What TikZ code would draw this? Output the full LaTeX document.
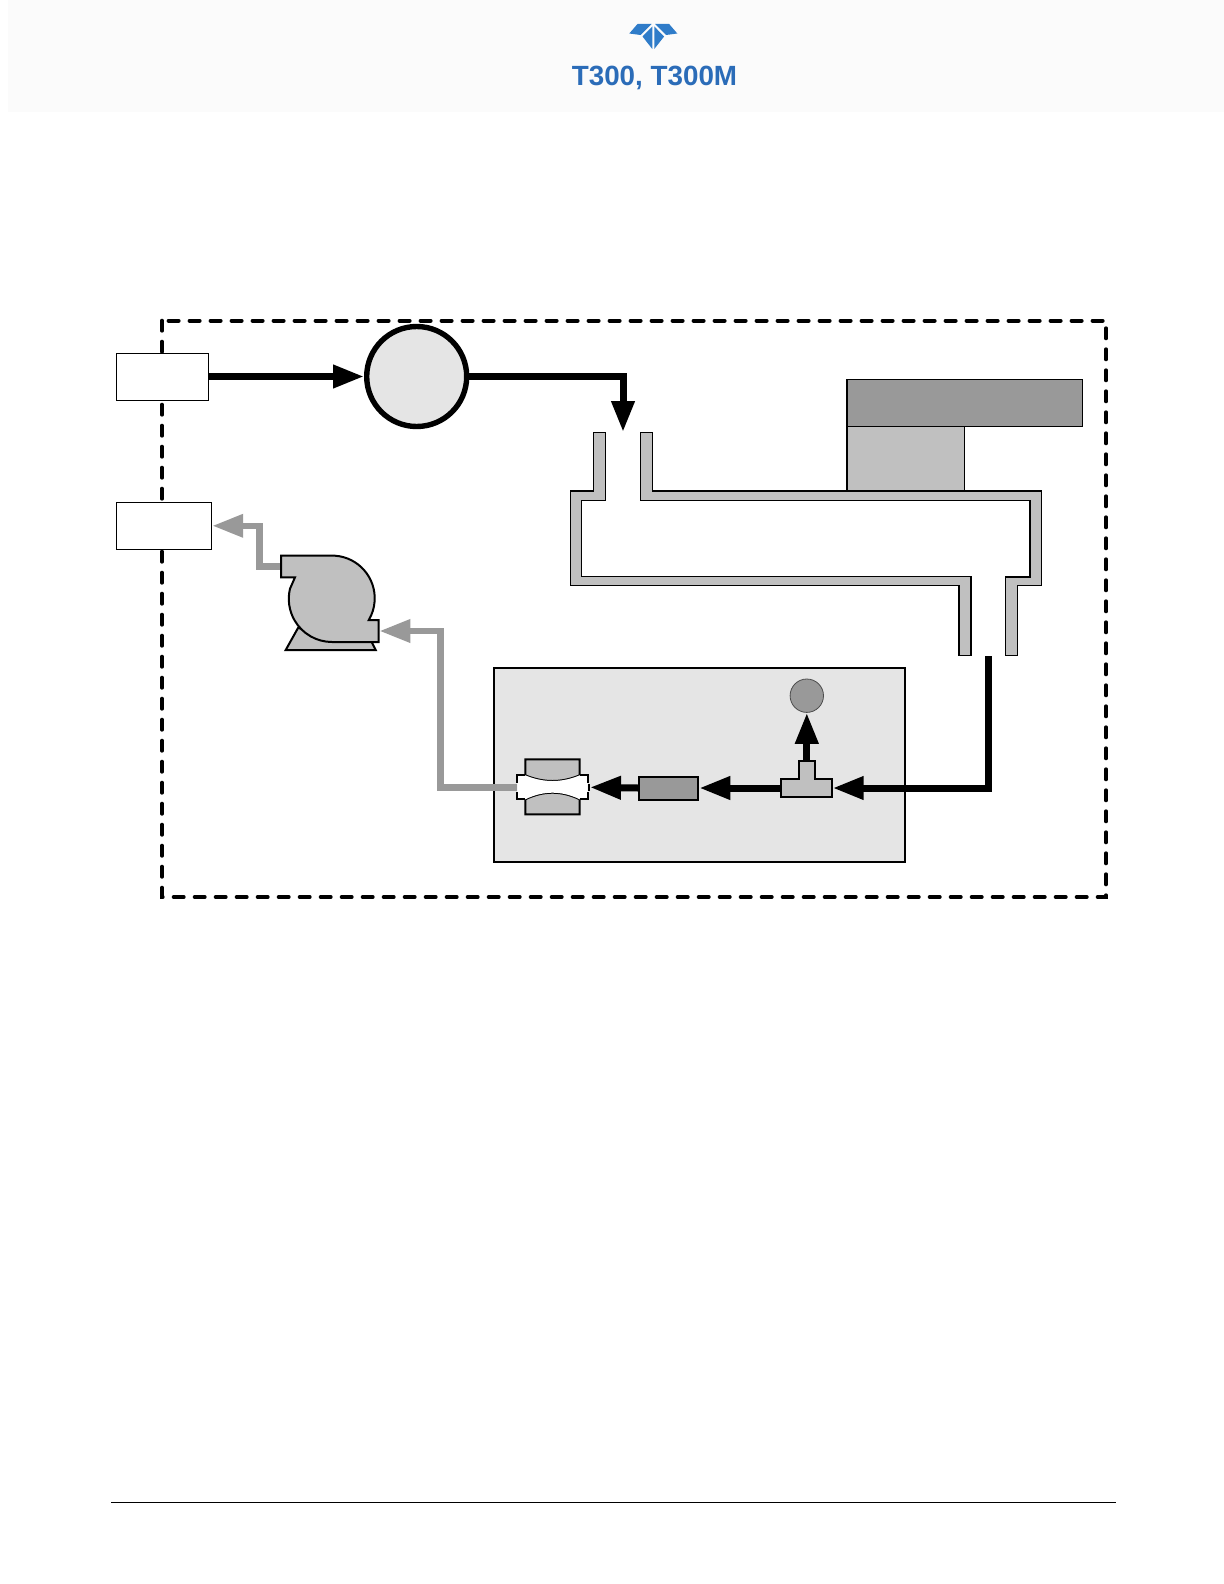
\documentclass[tikz,border=0pt]{standalone}
\usepackage{fontspec}
\setmainfont{Liberation Sans}
\usetikzlibrary{arrows.meta}
\definecolor{headbg}{HTML}{FBFBFB}
\definecolor{logoblue}{HTML}{2F7CC9}
\definecolor{titleblue}{HTML}{2B6CB8}
\definecolor{darkfill}{HTML}{999999}
\definecolor{lightfill}{HTML}{C0C0C0}
\definecolor{panelfill}{HTML}{E5E5E5}
\tikzset{
  flowtip/.style={-{Triangle[length=15.5pt,width=11pt]}},
  flowline/.style={line width=3.5pt,black,flowtip},
  exhaustline/.style={line width=3.3pt,darkfill,flowtip},
  portbox/.style={draw,fill=white,line width=0.5pt,inner sep=0pt},
  partbox/.style={draw,line width=1pt,inner sep=0pt},
  tubeshape/.style={draw,line width=0.8pt,fill=lightfill,line join=miter},
  partshape/.style={draw,line width=1pt,fill=lightfill,line join=miter},
}
\begin{document}
\begin{tikzpicture}[x=0.5pt,y=-0.5pt]
  \useasboundingbox (0,0) rectangle (1224,1584);
  % header and footer
  \fill[headbg] (8,0) rectangle (1224,112);
  \fill[logoblue] (629.3,33.5) -- (637.5,24) -- (651.5,24) -- (640.5,35) -- cycle;
  \fill[logoblue] (677.3,33.5) -- (669.1,24) -- (655.1,24) -- (666.1,35) -- cycle;
  \fill[logoblue] (642.5,36.5) -- (652.3,26.5) -- (652.3,49) -- cycle;
  \fill[logoblue] (664.1,36.5) -- (654.3,26.5) -- (654.3,49) -- cycle;
  \node[text=titleblue,font=\fontsize{13.9}{16}\selectfont\bfseries] (title) at (654.5,77.5) {T300, T300M};
  \draw[line width=0.6pt] (111,1502.3) -- (1116,1502.3);
  % enclosure
  \draw[line width=2pt,line cap=round,dash pattern=on 5pt off 5.5pt] (162,320.7) rectangle (1106,897);
  \node[portbox,minimum width=46.2pt,minimum height=23.5pt] (inlet) at (162.5,376.5) {};
  \node[portbox,minimum width=47.7pt,minimum height=23.5pt] (outlet) at (164,525.8) {};
  \node[draw,circle,fill=panelfill,line width=2.7pt,inner sep=0pt,minimum size=50pt] (flowmeter) at (416.7,376.5) {};
  % cell with source on top
  \draw[tubeshape,fill=darkfill] (846.7,379.3) rectangle (1082.3,426.3);
  \draw[tubeshape] (846.7,426.3) rectangle (964.3,490.7);
  \draw[tubeshape] (593.3,432.3) -- (605.3,432.3) -- (605.3,500.3) -- (581.3,500.3) -- (581.3,576.5)
    -- (970.7,576.5) -- (970.7,655.3) -- (958.7,655.3) -- (958.7,585.3) -- (570.3,585.3)
    -- (570.3,490.7) -- (593.3,490.7) -- cycle;
  \draw[tubeshape] (640.3,432.3) -- (652.3,432.3) -- (652.3,490.7) -- (1041.3,490.7) -- (1041.3,585.3)
    -- (1017.3,585.3) -- (1017.3,655.3) -- (1005.3,655.3) -- (1005.3,576.7) -- (1029.7,576.7)
    -- (1029.7,500.3) -- (640.3,500.3) -- cycle;
  % sensor panel
  \node[partbox,fill=panelfill,minimum width=205.7pt,minimum height=97pt] (panel) at (699.3,764.7) {};
  \node[partbox,fill=darkfill,minimum width=29.5pt,minimum height=11.5pt] (filter) at (668.8,788) {};
  \node[draw=black!70,fill=darkfill,circle,line width=0.4pt,inner sep=0pt,minimum size=16.7pt] (gauge) at (806.8,695.7) {};
  \coordinate (ventin) at (623,432);
  \coordinate (cellout) at (988.7,656);
  \coordinate (teein) at (832.7,788);
  \coordinate (teeleft) at (780.7,788);
  \coordinate (teetop) at (806.8,762);
  \coordinate (orificein) at (590,787.3);
  \coordinate (orificeend) at (588,787.3);
  \coordinate (orificeout) at (517.3,787.3);
  \coordinate (pumpin) at (379.3,631);
  \coordinate (pumpout) at (281,566.3);
  % flow
  \draw[flowline] (inlet.east) -- (flowmeter.west);
  \draw[flowline] (flowmeter.east) -| (ventin);
  \draw[flowline] (cellout) |- (teein);
  \draw[flowline] (teeleft) -- (filter.east);
  \draw[flowline] (teetop) -- (gauge.south);
  \draw[flowline] (filter.west) -- (orificein);
  \draw[line width=3.5pt] (orificein) -- (orificeend);
  \draw[exhaustline] (orificeout) -- (440.7,787.3) |- (pumpin);
  \draw[exhaustline] (pumpout) -- (259.3,566.3) |- (outlet.east);
  % tee
  \draw[partshape] (780.7,778.7) -- (799,778.7) -- (799,761) -- (814.7,761) -- (814.7,778.7)
    -- (832,778.7) -- (832,797) -- (780.7,797) -- cycle;
  % orifice
  \draw[partshape] (525.3,775.3) -- (525.3,759.3) -- (579.7,759.3) -- (579.7,775.3)
    .. controls (561.6,782.9) and (543.4,782.9) .. cycle;
  \draw[partshape] (525.3,799.3) -- (525.3,814.3) -- (579.7,814.3) -- (579.7,799.3)
    .. controls (561.6,790.5) and (543.4,790.5) .. cycle;
  \fill[white] (517.3,775.3) -- (525.3,775.3) .. controls (543.4,782.9) and (561.6,782.9) .. (579.7,775.3)
    -- (587.7,775.3) -- (587.7,799.3) -- (579.7,799.3) .. controls (561.6,790.5) and (543.4,790.5) .. (525.3,799.3)
    -- (517.3,799.3) -- cycle;
  \draw[line width=1pt] (525.3,775.3) -- (517.3,775.3) -- (517.3,783);
  \draw[line width=1pt] (525.3,799.3) -- (517.3,799.3) -- (517.3,792);
  \draw[line width=1pt] (579.7,775.3) -- (587.7,775.3) -- (587.7,783);
  \draw[line width=1pt] (579.7,799.3) -- (587.7,799.3) -- (587.7,792);
  % pump
  \draw[partshape] (285.7,650) -- (375.7,650) -- (371.7,642) -- (298,628) -- cycle;
  \draw[partshape] (281,555.7) -- (335,555.7) arc[start angle=86,end angle=-30.6,radius=21.35pt]
    -- (378.7,620) -- (378.7,642) -- (332,642) arc[start angle=-90,end angle=-193.4,radius=21.6pt]
    -- (295,577.3) -- (281,577.3) -- cycle;
\end{tikzpicture}
\end{document}
